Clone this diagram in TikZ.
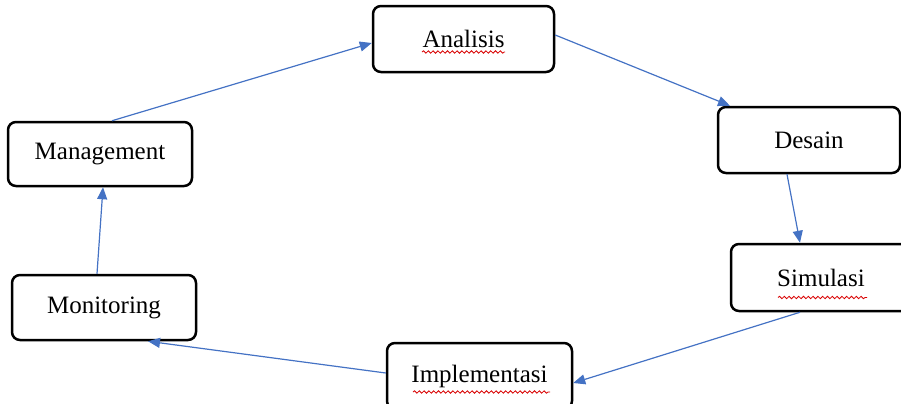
\documentclass[tikz,border=0pt]{standalone}
\usepackage{fontspec}
\setmainfont{Liberation Serif}
\usepackage{xcolor}
\usepackage{tikz}
\usetikzlibrary{arrows.meta,decorations.pathmorphing}
\definecolor{flowblue}{HTML}{4472C4}
\tikzset{
  phase/.style={rectangle, rounded corners=4pt, draw=black, line width=1.25pt,
                fill=white, align=center, inner sep=2pt,
                font=\fontsize{12.5}{15}\selectfont},
  ar/.style={-{Triangle[length=6pt,width=5pt]}, draw=flowblue, line width=0.6pt},
  typo/.style={draw=red!85!black, line width=0.4pt, decorate,
               decoration={snake, amplitude=0.6pt, segment length=2.4pt}}
}

\begin{document}
\begin{tikzpicture}[x=0.5pt, y=-0.5pt]
\useasboundingbox (0,0) rectangle (901,403);
% ---- phases of the cycle ----
\node[phase, minimum width=90.5pt, minimum height=33pt] (ana) at (463.5,39) {Analisis};
\node[phase, minimum width=91pt, minimum height=33pt] (des) at (809,140) {Desain};
\node[phase, minimum width=90pt, minimum height=33.5pt] (sim) at (821,277.5) {Simulasi};
\node[phase, minimum width=92.5pt, minimum height=33pt] (imp) at (479.5,376) {Implementasi};
\node[phase, minimum width=92pt, minimum height=32.5pt] (mon) at (104,307.5) {Monitoring};
\node[phase, minimum width=92pt, minimum height=32pt] (mgt) at (100,154) {Management};
% ---- spelling marks under the words ----
\draw[typo] ([xshift=-20.75pt, yshift=-6.5pt]ana.center) -- ([xshift=20.75pt, yshift=-6.5pt]ana.center);
\draw[typo] ([xshift=-21.5pt, yshift=-10pt]sim.center) -- ([xshift=23pt, yshift=-10pt]sim.center);
\draw[typo] ([xshift=-33.25pt, yshift=-8pt]imp.center) -- ([xshift=35.25pt, yshift=-8pt]imp.center);
% ---- arrows round the cycle ----
\draw[ar] ([xshift=6pt]mgt.north) -- ([yshift=-2pt]ana.west);
\draw[ar] ([yshift=2pt]ana.east) -- ([xshift=-39.5pt]des.north);
\draw[ar] ([xshift=-11pt]des.south) -- ([xshift=-10.5pt]sim.north);
\draw[ar] ([xshift=-10.5pt]sim.south) -- ([yshift=-3.5pt]imp.east);
\draw[ar] ([yshift=1.5pt]imp.west) -- ([xshift=22pt]mon.south);
\draw[ar] ([xshift=-3.5pt]mon.north) -- ([xshift=1.5pt]mgt.south);
\end{tikzpicture}
\end{document}
